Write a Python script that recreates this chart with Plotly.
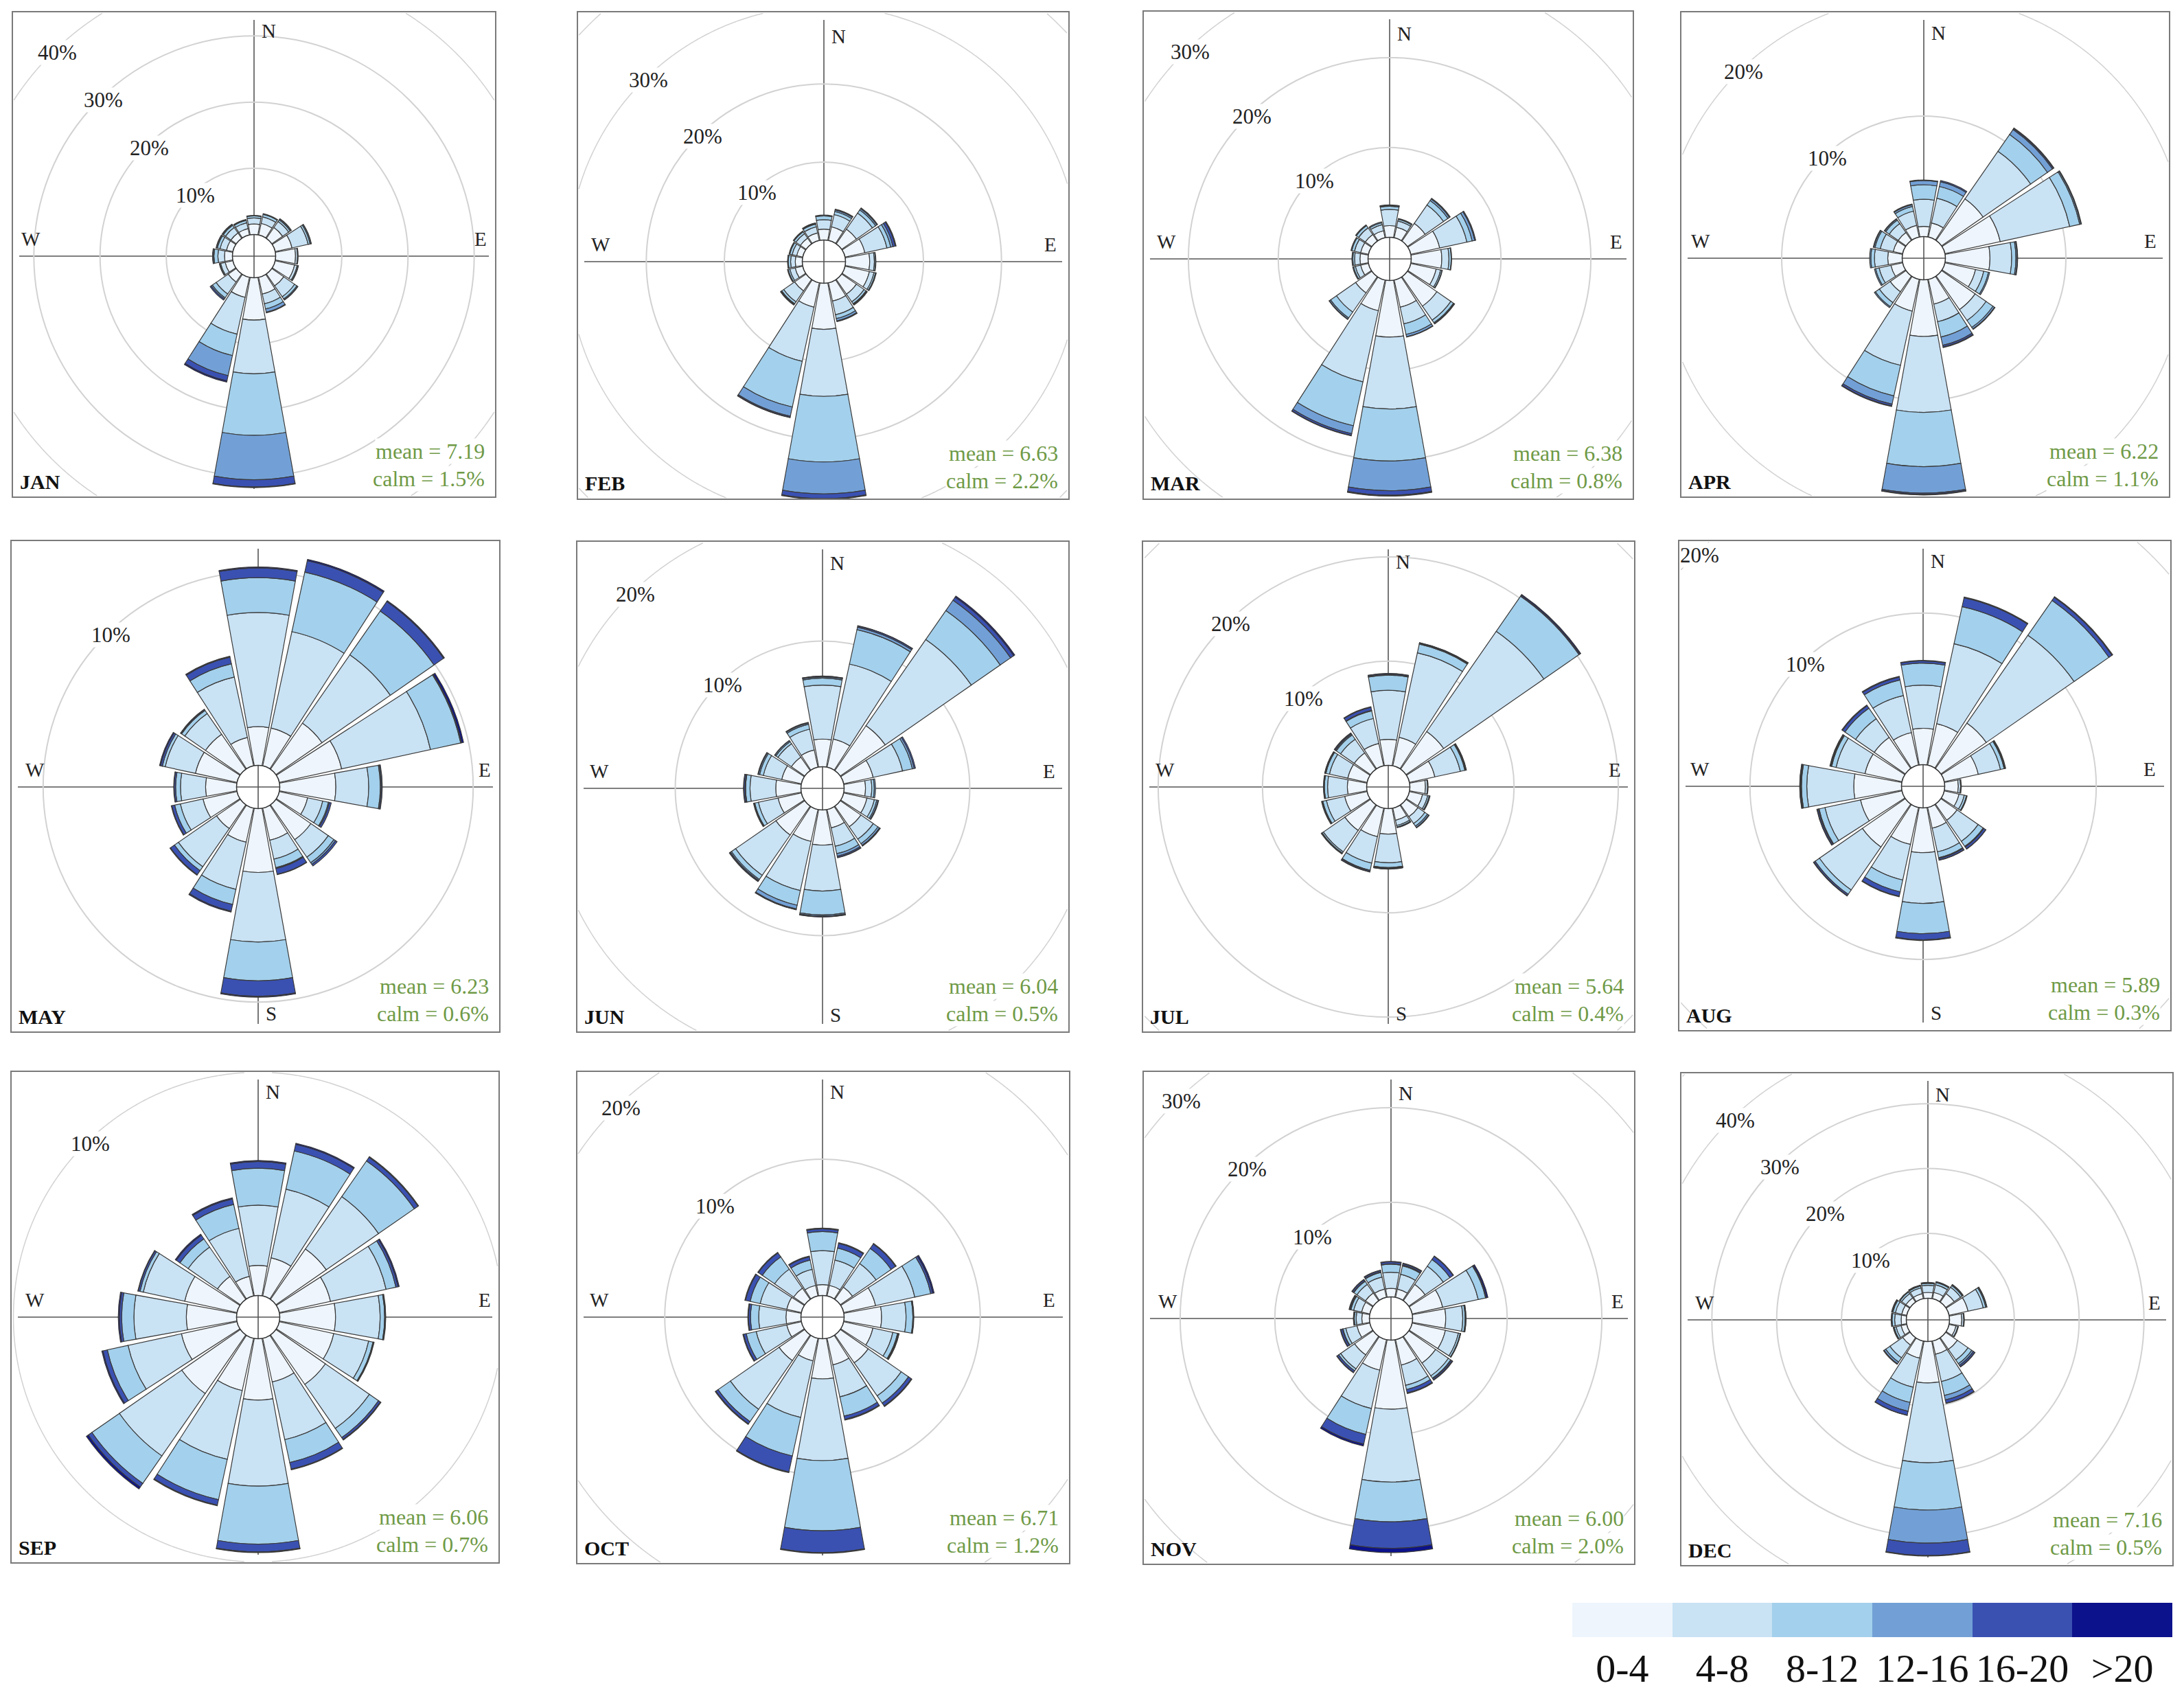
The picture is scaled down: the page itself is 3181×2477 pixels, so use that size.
import math
import plotly.graph_objects as go

# ---------------- data ----------------
DIRECTIONS = ["N", "NNE", "NE", "ENE", "E", "ESE", "SE", "SSE",
              "S", "SSW", "SW", "WSW", "W", "WNW", "NW", "NNW"]
DIR_DEG = [0, 22.5, 45, 67.5, 90, 112.5, 135, 157.5,
           180, 202.5, 225, 247.5, 270, 292.5, 315, 337.5]
SPEED_BINS = ["0-4", "4-8", "8-12", "12-16", "16-20", ">20"]
MONTHS = ["JAN", "FEB", "MAR", "APR", "MAY", "JUN",
          "JUL", "AUG", "SEP", "OCT", "NOV", "DEC"]
MEANS = ["7.19", "6.63", "6.38", "6.22", "6.23", "6.04",
         "5.64", "5.89", "6.06", "6.71", "6.00", "7.16"]
CALMS = ["1.5", "2.2", "0.8", "1.1", "0.6", "0.5",
         "0.4", "0.3", "0.7", "1.2", "2.0", "0.5"]

# frequency (%) per direction (rows, N..NNW) and speed bin (columns 0-4 .. >20)
JAN = [[1.6, 0.9, 0.3, 0.1, 0.0, 0.0], [1.8, 1.0, 0.4, 0.1, 0.0, 0.0],
       [2.0, 1.1, 0.3, 0.15, 0.05, 0.0], [2.6, 2.5, 0.3, 0.15, 0.05, 0.0],
       [3.0, 0.3, 0.1, 0.0, 0.0, 0.0], [3.0, 0.4, 0.15, 0.05, 0.0, 0.0],
       [2.2, 2.0, 0.4, 0.15, 0.05, 0.0], [2.6, 1.5, 0.8, 0.5, 0.1, 0.0],
       [6.4, 8.1, 9.3, 6.7, 1.1, 0.1], [3.1, 5.7, 3.3, 3.1, 0.8, 0.2],
       [1.5, 2.2, 0.7, 0.2, 0.2, 0.0], [1.2, 0.7, 0.15, 0.05, 0.0, 0.0],
       [1.2, 1.0, 0.6, 0.15, 0.05, 0.0], [1.0, 1.0, 0.4, 0.15, 0.05, 0.0],
       [1.0, 1.0, 0.4, 0.15, 0.05, 0.0], [1.0, 0.9, 0.35, 0.1, 0.05, 0.0]]
FEB = [[1.4, 1.2, 0.5, 0.1, 0.0, 0.0], [1.8, 1.6, 0.4, 0.2, 0.1, 0.0],
       [2.3, 2.5, 0.5, 0.2, 0.1, 0.0], [2.6, 2.9, 0.5, 0.3, 0.3, 0.1],
       [3.1, 0.6, 0.15, 0.05, 0.0, 0.0], [3.2, 0.6, 0.2, 0.1, 0.0, 0.0],
       [2.3, 1.2, 0.3, 0.1, 0.1, 0.0], [2.4, 1.8, 0.5, 0.3, 0.1, 0.0],
       [5.9, 8.6, 8.4, 4.1, 0.6, 0.1], [3.2, 7.1, 6.0, 1.2, 0.15, 0.05],
       [1.8, 1.7, 0.3, 0.1, 0.1, 0.0], [1.0, 0.7, 0.2, 0.1, 0.0, 0.0],
       [0.9, 0.6, 0.3, 0.1, 0.0, 0.0], [0.8, 0.6, 0.3, 0.1, 0.0, 0.0],
       [0.9, 0.7, 0.3, 0.1, 0.0, 0.0], [1.0, 0.8, 0.35, 0.1, 0.05, 0.0]]
MAR = [[1.3, 1.8, 0.35, 0.1, 0.05, 0.0], [1.2, 0.7, 0.2, 0.1, 0.0, 0.0],
       [2.4, 2.5, 0.6, 0.2, 0.1, 0.0], [3.3, 3.1, 0.6, 0.3, 0.1, 0.0],
       [3.4, 0.8, 0.25, 0.05, 0.0, 0.0], [2.9, 0.5, 0.15, 0.05, 0.0, 0.0],
       [4.0, 1.9, 0.35, 0.1, 0.05, 0.0], [3.1, 1.9, 1.2, 0.25, 0.05, 0.0],
       [6.3, 8.0, 5.8, 3.3, 0.5, 0.1], [3.5, 8.1, 5.0, 0.9, 0.2, 0.05],
       [2.2, 2.6, 0.8, 0.15, 0.05, 0.0], [0.9, 0.6, 0.2, 0.1, 0.0, 0.0],
       [0.9, 0.6, 0.2, 0.1, 0.0, 0.0], [0.9, 0.7, 0.3, 0.1, 0.0, 0.0],
       [0.9, 0.9, 0.3, 0.1, 0.0, 0.0], [0.8, 0.7, 0.2, 0.1, 0.0, 0.0]]
APR = [[0.85, 2.25, 1.2, 0.35, 0.05, 0.0], [1.2, 2.1, 1.0, 0.4, 0.1, 0.0],
       [4.2, 4.8, 1.7, 0.5, 0.1, 0.05], [4.7, 5.9, 0.85, 0.1, 0.05, 0.0],
       [3.7, 1.8, 0.35, 0.1, 0.05, 0.0], [2.6, 0.7, 0.4, 0.1, 0.0, 0.0],
       [3.4, 1.1, 0.7, 0.15, 0.05, 0.0], [2.1, 1.5, 1.3, 0.7, 0.15, 0.05],
       [4.7, 6.3, 4.5, 2.2, 0.1, 0.05], [2.7, 4.6, 2.6, 0.7, 0.15, 0.05],
       [1.6, 1.1, 0.4, 0.1, 0.0, 0.0], [1.0, 1.0, 0.3, 0.1, 0.0, 0.0],
       [1.2, 1.1, 0.3, 0.1, 0.0, 0.0], [0.8, 1.1, 0.45, 0.1, 0.05, 0.0],
       [0.8, 0.9, 0.35, 0.1, 0.05, 0.0], [1.0, 1.2, 0.4, 0.15, 0.05, 0.0]]
MAY = [[2.0, 5.9, 1.8, 0.0, 0.5, 0.05], [2.0, 5.1, 3.15, 0.0, 0.6, 0.07],
       [2.9, 4.3, 2.75, 0.0, 0.6, 0.05], [3.3, 4.7, 1.6, 0.0, 0.05, 0.1],
       [2.9, 1.7, 0.6, 0.05, 0.05, 0.0], [1.5, 0.8, 0.3, 0.05, 0.1, 0.0],
       [2.2, 1.1, 0.35, 0.1, 0.1, 0.0], [1.7, 1.0, 0.45, 0.05, 0.3, 0.02],
       [3.3, 3.6, 2.0, 0.0, 0.8, 0.05], [1.8, 2.5, 0.8, 0.0, 0.35, 0.05],
       [1.5, 2.4, 0.25, 0.0, 0.25, 0.03], [1.8, 1.2, 0.3, 0.0, 0.15, 0.03],
       [1.6, 1.3, 0.25, 0.0, 0.08, 0.02], [2.2, 1.6, 0.15, 0.0, 0.1, 0.05],
       [2.2, 1.3, 0.2, 0.0, 0.05, 0.02], [1.5, 3.2, 0.7, 0.0, 0.35, 0.05]]
JUN = [[2.2, 4.3, 0.55, 0.1, 0.05, 0.02], [2.3, 6.1, 2.8, 0.2, 0.1, 0.02],
       [4.35, 8.35, 2.8, 1.0, 0.3, 0.1], [2.4, 2.4, 0.8, 0.15, 0.1, 0.0],
       [1.7, 0.5, 0.2, 0.1, 0.0, 0.0], [1.9, 0.6, 0.2, 0.1, 0.05, 0.0],
       [2.0, 1.2, 0.45, 0.15, 0.05, 0.02], [1.5, 1.5, 0.6, 0.2, 0.1, 0.03],
       [2.8, 3.65, 1.9, 0.1, 0.05, 0.02], [2.6, 4.0, 1.2, 0.3, 0.05, 0.02],
       [2.8, 3.9, 0.4, 0.1, 0.08, 0.02], [1.9, 1.6, 0.3, 0.05, 0.05, 0.0],
       [2.0, 2.05, 0.35, 0.05, 0.1, 0.02], [1.6, 1.5, 0.3, 0.1, 0.05, 0.0],
       [1.3, 1.3, 0.2, 0.1, 0.02, 0.0], [1.4, 1.7, 0.4, 0.1, 0.05, 0.0]]
JUL = [[2.5, 4.7, 1.45, 0.05, 0.1, 0.02], [2.8, 8.3, 0.85, 0.05, 0.08, 0.02],
       [4.4, 11.7, 4.1, 0.0, 0.1, 0.1], [2.5, 2.5, 0.45, 0.05, 0.08, 0.02],
       [1.5, 0.2, 0.05, 0.0, 0.0, 0.0], [1.3, 0.5, 0.15, 0.05, 0.03, 0.0],
       [1.4, 0.8, 0.3, 0.15, 0.05, 0.0], [1.2, 0.5, 0.15, 0.05, 0.02, 0.0],
       [2.45, 2.75, 0.45, 0.05, 0.08, 0.02], [2.8, 2.6, 0.7, 0.05, 0.1, 0.02],
       [3.0, 2.5, 0.15, 0.05, 0.05, 0.0], [2.2, 1.8, 0.35, 0.05, 0.08, 0.0],
       [1.85, 1.9, 0.3, 0.05, 0.05, 0.0], [1.9, 1.8, 0.35, 0.05, 0.05, 0.02],
       [1.9, 1.6, 0.5, 0.1, 0.1, 0.03], [2.2, 2.45, 0.75, 0.05, 0.3, 0.05]]
AUG = [[2.4, 2.85, 1.45, 0.0, 0.15, 0.03], [2.8, 5.4, 2.5, 0.0, 0.6, 0.05],
       [3.65, 7.05, 2.8, 0.0, 0.25, 0.05], [2.3, 1.5, 0.25, 0.05, 0.05, 0.0],
       [0.9, 0.15, 0.05, 0.0, 0.0, 0.0], [1.0, 0.35, 0.15, 0.05, 0.0, 0.0],
       [1.3, 1.7, 0.4, 0.05, 0.15, 0.02], [1.4, 1.6, 0.4, 0.05, 0.1, 0.02],
       [2.95, 3.35, 2.0, 0.0, 0.4, 0.05], [2.5, 2.4, 0.8, 0.0, 0.3, 0.03],
       [3.45, 3.45, 0.35, 0.0, 0.1, 0.03], [2.8, 2.4, 0.4, 0.05, 0.08, 0.02],
       [3.15, 3.1, 0.35, 0.05, 0.05, 0.02], [2.5, 1.95, 0.3, 0.05, 0.05, 0.02],
       [2.5, 1.5, 0.85, 0.0, 0.2, 0.05], [2.2, 2.5, 1.05, 0.0, 0.2, 0.05]]
SEP = [[1.35, 2.7, 1.65, 0.0, 0.3, 0.05], [1.75, 3.15, 1.75, 0.0, 0.3, 0.05],
       [2.75, 2.85, 1.95, 0.0, 0.2, 0.03], [2.35, 2.55, 0.45, 0.0, 0.1, 0.05],
       [2.5, 2.0, 0.2, 0.03, 0.02, 0.0], [2.5, 1.6, 0.2, 0.03, 0.02, 0.0],
       [2.7, 2.4, 0.5, 0.0, 0.1, 0.03], [2.0, 2.65, 1.05, 0.0, 0.3, 0.03],
       [2.75, 3.85, 2.6, 0.0, 0.35, 0.03], [2.4, 3.15, 1.85, 0.0, 0.25, 0.03],
       [3.2, 3.4, 1.5, 0.0, 0.2, 0.1], [2.55, 2.45, 0.95, 0.0, 0.2, 0.05],
       [2.25, 2.35, 0.55, 0.0, 0.1, 0.05], [2.4, 1.9, 0.15, 0.0, 0.08, 0.02],
       [1.25, 1.6, 0.45, 0.0, 0.2, 0.05], [0.9, 2.2, 1.1, 0.0, 0.25, 0.05]]
OCT = [[0.8, 2.5, 1.4, 0.0, 0.2, 0.05], [0.8, 1.9, 0.9, 0.0, 0.35, 0.05],
       [1.1, 2.1, 1.35, 0.0, 0.4, 0.05], [2.4, 2.95, 1.2, 0.0, 0.15, 0.1],
       [2.75, 1.8, 0.5, 0.0, 0.05, 0.02], [2.2, 1.5, 0.35, 0.05, 0.05, 0.02],
       [2.5, 2.95, 0.65, 0.0, 0.25, 0.05], [2.0, 2.4, 1.45, 0.0, 0.25, 0.05],
       [2.95, 6.0, 5.15, 0.0, 1.6, 0.05], [1.7, 4.25, 2.9, 0.0, 1.2, 0.05],
       [2.3, 4.35, 1.1, 0.0, 0.2, 0.05], [1.1, 2.3, 0.75, 0.0, 0.2, 0.05],
       [1.1, 2.0, 0.6, 0.0, 0.15, 0.05], [1.1, 2.0, 0.75, 0.0, 0.35, 0.05],
       [1.0, 1.7, 1.1, 0.0, 0.35, 0.05], [0.8, 1.2, 0.7, 0.0, 0.25, 0.05]]
NOV = [[0.9, 1.7, 0.85, 0.05, 0.2, 0.05], [0.9, 1.6, 0.9, 0.1, 0.15, 0.05],
       [2.1, 2.35, 0.85, 0.0, 0.4, 0.05], [3.3, 3.85, 0.8, 0.0, 0.1, 0.15],
       [3.5, 1.8, 0.25, 0.05, 0.03, 0.02], [3.6, 1.4, 0.2, 0.02, 0.02, 0.01],
       [3.45, 1.65, 0.3, 0.05, 0.15, 0.05], [2.75, 2.2, 0.45, 0.0, 0.35, 0.08],
       [7.3, 7.7, 4.2, 0.0, 2.8, 0.45], [3.3, 4.15, 2.8, 0.0, 1.05, 0.2],
       [2.4, 1.8, 0.25, 0.0, 0.2, 0.05], [1.4, 1.2, 0.3, 0.05, 0.2, 0.05],
       [0.8, 0.6, 0.2, 0.05, 0.05, 0.0], [0.9, 0.85, 0.3, 0.05, 0.1, 0.05],
       [1.0, 1.1, 0.4, 0.05, 0.15, 0.05], [0.9, 1.3, 0.5, 0.05, 0.15, 0.05]]
DEC = [[0.9, 1.1, 0.3, 0.1, 0.05, 0.0], [1.0, 1.2, 0.35, 0.1, 0.05, 0.0],
       [1.6, 1.2, 0.3, 0.15, 0.05, 0.0], [3.0, 2.4, 0.4, 0.15, 0.05, 0.0],
       [1.9, 0.3, 0.1, 0.0, 0.0, 0.0], [1.1, 0.3, 0.1, 0.0, 0.0, 0.0],
       [2.2, 2.0, 0.7, 0.3, 0.25, 0.05], [2.1, 4.3, 2.2, 0.7, 0.5, 0.05],
       [6.4, 12.3, 7.3, 5.1, 1.9, 0.1], [2.7, 4.6, 2.4, 1.4, 0.6, 0.05],
       [1.4, 2.4, 0.8, 0.3, 0.1, 0.0], [0.9, 0.8, 0.3, 0.1, 0.05, 0.0],
       [0.8, 1.0, 0.4, 0.1, 0.05, 0.0], [0.8, 1.0, 0.4, 0.1, 0.1, 0.0],
       [0.8, 0.8, 0.3, 0.05, 0.05, 0.0], [0.8, 0.9, 0.3, 0.1, 0.05, 0.0]]

ROSES = {"JAN": JAN, "FEB": FEB, "MAR": MAR, "APR": APR, "MAY": MAY, "JUN": JUN,
         "JUL": JUL, "AUG": AUG, "SEP": SEP, "OCT": OCT, "NOV": NOV, "DEC": DEC}

GRID_PCT = [10, 20, 30, 40, 50, 60]
GRID_LABELS = {"JAN": [10, 20, 30, 40], "FEB": [10, 20, 30], "MAR": [10, 20, 30],
               "APR": [10, 20], "MAY": [10], "JUN": [10, 20], "JUL": [10, 20],
               "AUG": [10, 20], "SEP": [10], "OCT": [10, 20], "NOV": [10, 20, 30],
               "DEC": [10, 20, 30, 40]}
COMPASS = {"JAN": "NWE", "FEB": "NWE", "MAR": "NWE", "APR": "NWE",
           "MAY": "WES", "JUN": "NWES", "JUL": "NWES", "AUG": "NWES",
           "SEP": "NWE", "OCT": "NWE", "NOV": "NWE", "DEC": "NWE"}

# ---------------- layout / style ----------------
W, H = 3181, 2477
FONT = "Liberation Serif"
BIN_COLORS = ["#eef5fc", "#c9e2f4", "#a3d0ec", "#72a0d6", "#3a51b2", "#0c118c"]
EDGE = "#3a3a3a"
GRID = "#d2d2d2"
GREEN = "#6f9a47"

PANEL_CENTER = {"JAN": (370, 373), "FEB": (1200, 381), "MAR": (2024, 377), "APR": (2802, 376),
                "MAY": (376, 1146), "JUN": (1198, 1148), "JUL": (2022, 1146), "AUG": (2801, 1145),
                "SEP": (376, 1918), "OCT": (1198, 1918), "NOV": (2026, 1920), "DEC": (2808, 1922)}
PANEL_BOX = {"JAN": (18, 17, 722, 724), "FEB": (841, 17, 1557, 727),
             "MAR": (1665, 16, 2379, 727), "APR": (2448, 17, 3160, 724),
             "MAY": (16, 787, 728, 1503), "JUN": (840, 788, 1557, 1503),
             "JUL": (1664, 788, 2381, 1503), "AUG": (2445, 787, 3162, 1501),
             "SEP": (16, 1560, 727, 2276), "OCT": (840, 1560, 1558, 2277),
             "NOV": (1665, 1560, 2381, 2278), "DEC": (2448, 1562, 3165, 2280)}
PANEL_SCALE = {"JAN": 9.64, "FEB": 11.36, "MAR": 13.08, "APR": 17.55,
               "MAY": 28.17, "JUN": 18.30, "JUL": 15.18, "AUG": 22.07,
               "SEP": 32.5, "OCT": 19.83, "NOV": 13.78, "DEC": 9.44}
R = 350.0
HOLE_PX = 31.5
BAR_WIDTH = 20.5


def px(x):
    return x / W


def py(y):
    return 1 - y / H


fig = go.Figure()
shapes, annotations = [], []

for i, m in enumerate(MONTHS):
    cx, cy = PANEL_CENTER[m]
    bx0, by0, bx1, by1 = PANEL_BOX[m]
    k = PANEL_SCALE[m]
    rmax = (R - HOLE_PX) / k
    pid = "polar" if i == 0 else f"polar{i + 1}"
    rows = ROSES[m]
    for j, b in enumerate(SPEED_BINS):
        fig.add_trace(go.Barpolar(
            r=[row[j] for row in rows], theta=DIR_DEG, width=[BAR_WIDTH] * len(DIR_DEG),
            name=b, subplot=pid, showlegend=False, hoverinfo="skip",
            marker=dict(color=BIN_COLORS[j], line=dict(color=EDGE, width=1.2))))
    fig.update_layout(**{pid: dict(
        domain=dict(x=[px(cx - R), px(cx + R)], y=[py(cy + R), py(cy - R)]),
        hole=HOLE_PX / R, bgcolor="rgba(0,0,0,0)", barmode="stack",
        radialaxis=dict(range=[0, rmax], tickvals=[v for v in GRID_PCT if v < rmax],
                        showticklabels=False, showline=False, ticks="",
                        gridcolor=GRID, gridwidth=1.5),
        angularaxis=dict(rotation=90, direction="clockwise", showgrid=False,
                         showline=False, showticklabels=False, ticks=""))})

    # grid circles that fall beyond the polar disc (corner arcs), clipped to the panel box
    for v in GRID_PCT:
        r = HOLE_PX + k * v
        if r <= R:
            continue
        n = 1440
        pts, flags = [], []
        for s in range(n):
            a = 2 * math.pi * s / n
            x = cx + r * math.cos(a)
            y = cy - r * math.sin(a)
            pts.append((x, y))
            flags.append(bx0 + 2 <= x <= bx1 - 2 and by0 + 2 <= y <= by1 - 2)
        if not any(flags):
            continue
        runs = []
        if all(flags):
            runs.append(pts + [pts[0]])
        else:
            start = flags.index(False)
            order = list(range(start, n)) + list(range(0, start))
            cur = []
            for idx in order:
                if flags[idx]:
                    cur.append(pts[idx])
                else:
                    if len(cur) > 1:
                        runs.append(cur)
                    cur = []
            if len(cur) > 1:
                runs.append(cur)
        for run in runs:
            path = "M " + " L ".join(f"{px(x):.5f},{py(y):.5f}" for x, y in run)
            shapes.append(dict(type="path", path=path, xref="paper", yref="paper",
                               line=dict(color=GRID, width=1.5), layer="below"))

    # crosshair
    shapes.append(dict(type="line", xref="paper", yref="paper",
                       x0=px(bx0 + 10), x1=px(bx1 - 10), y0=py(cy), y1=py(cy),
                       line=dict(color="#555555", width=1.6), layer="below"))
    shapes.append(dict(type="line", xref="paper", yref="paper",
                       x0=px(cx), x1=px(cx), y0=py(by0 + 12), y1=py(by1 - 12),
                       line=dict(color="#555555", width=1.6), layer="below"))
    # calm circle
    shapes.append(dict(type="circle", xref="paper", yref="paper",
                       x0=px(cx - HOLE_PX), x1=px(cx + HOLE_PX),
                       y0=py(cy + HOLE_PX), y1=py(cy - HOLE_PX),
                       line=dict(color="#333333", width=1.5), layer="above"))
    # panel frame
    shapes.append(dict(type="rect", xref="paper", yref="paper",
                       x0=px(bx0), x1=px(bx1), y0=py(by1), y1=py(by0),
                       line=dict(color="#7a7a7a", width=2), layer="above"))

    # percentage labels
    ang = math.radians(134)
    for v in GRID_LABELS[m]:
        rl = HOLE_PX + k * v - 5
        annotations.append(dict(
            x=px(cx + rl * math.cos(ang)), y=py(cy - rl * math.sin(ang)),
            xref="paper", yref="paper", text=f"{v}%", showarrow=False,
            font=dict(family=FONT, size=31, color="#222222"), bgcolor="white",
            borderpad=0, xanchor="center", yanchor="middle"))

    # compass letters
    comp = {"N": (cx + 9, cy - 328, "left"), "E": (cx + 330, cy - 25, "center"),
            "W": (cx - 325, cy - 25, "center"), "S": (cx + 9, cy + 330, "left")}
    for letter in COMPASS[m]:
        x, y, anc = comp[letter]
        annotations.append(dict(x=px(x), y=py(y), xref="paper", yref="paper",
                                text=letter, showarrow=False, xanchor=anc, yanchor="middle",
                                font=dict(family=FONT, size=29, color="#222222")))

    # month, mean, calm
    annotations.append(dict(x=px(bx0 + 9), y=py(by1 - 23), xref="paper", yref="paper",
                            text=f"<b>{m}</b>", showarrow=False, xanchor="left", yanchor="middle",
                            font=dict(family=FONT, size=30, color="#111111")))
    annotations.append(dict(x=px(bx1 - 15), y=py(by1 - 67), xref="paper", yref="paper",
                            text=f"mean = {MEANS[i]}", showarrow=False, xanchor="right",
                            yanchor="middle", bgcolor="white", borderpad=0,
                            font=dict(family=FONT, size=32, color=GREEN)))
    annotations.append(dict(x=px(bx1 - 15), y=py(by1 - 27), xref="paper", yref="paper",
                            text=f"calm = {CALMS[i]}%", showarrow=False, xanchor="right",
                            yanchor="middle", bgcolor="white", borderpad=0,
                            font=dict(family=FONT, size=32, color=GREEN)))

# colour key (speed bins)
fig.add_trace(go.Bar(x=SPEED_BINS, y=[1] * len(SPEED_BINS), marker=dict(color=BIN_COLORS, line=dict(width=0)),
                     showlegend=False, hoverinfo="skip", xaxis="x", yaxis="y"))
fig.update_layout(
    xaxis=dict(domain=[px(2290), px(3164)], showline=False, showgrid=False, zeroline=False,
               ticks="", tickfont=dict(family=FONT, size=58, color="#111111"),
               ticklabelstandoff=6, fixedrange=True),
    yaxis=dict(domain=[py(2384), py(2334)], range=[0, 1], visible=False, fixedrange=True),
    bargap=0,
)

fig.update_layout(width=W, height=H, autosize=False,
                  margin=dict(l=0, r=0, t=0, b=0),
                  paper_bgcolor="white", plot_bgcolor="white",
                  shapes=shapes, annotations=annotations, showlegend=False)

fig.write_html("out.html", config={"displayModeBar": False},
               post_script="document.body.style.margin='0';document.body.style.overflow='hidden';")
